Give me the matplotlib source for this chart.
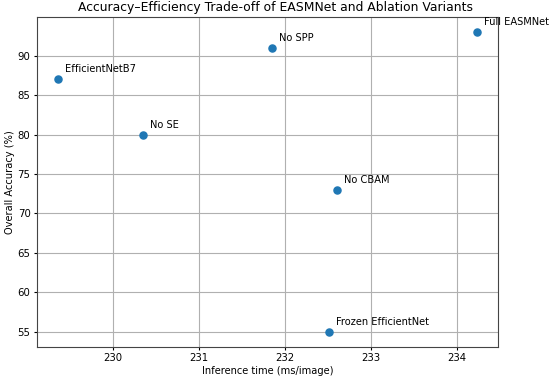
import matplotlib
matplotlib.use('Agg')
import matplotlib.pyplot as plt

models = ['Full EASMNet', 'No SPP', 'EfficientNetB7', 'No SE', 'No CBAM', 'Frozen EfficientNet']
inference_ms = [234.23, 231.85, 229.36, 230.35, 232.60, 232.51]
accuracy = [93, 91, 87, 80, 73, 55]

plt.rcParams['font.size'] = 7.1

fig = plt.figure(figsize=(5.5, 3.77), dpi=100)
ax = fig.add_axes([0.067, 0.080, 0.838, 0.875])

ax.scatter(inference_ms, accuracy, s=26, color='#1f77b4', zorder=3)
for name, x, y in zip(models, inference_ms, accuracy):
	ax.annotate(name, (x, y), xytext=(5, 5), textcoords='offset points', fontsize=7.1)

ax.set_xlabel('Inference time (ms/image)', labelpad=2)
ax.set_ylabel('Overall Accuracy (%)', labelpad=2)
# title sits at the figure centre in the reference (tight bbox shifted it)
ax.set_title('Accuracy–Efficiency Trade-off of EASMNet and Ablation Variants', fontsize=8.9, pad=4, x=0.517)
ax.grid(True)
ax.tick_params(length=2.5, pad=2, labelsize=7.3)
for s in ax.spines.values():
	s.set_color('#444444')

fig.savefig('out.png', dpi=100)
